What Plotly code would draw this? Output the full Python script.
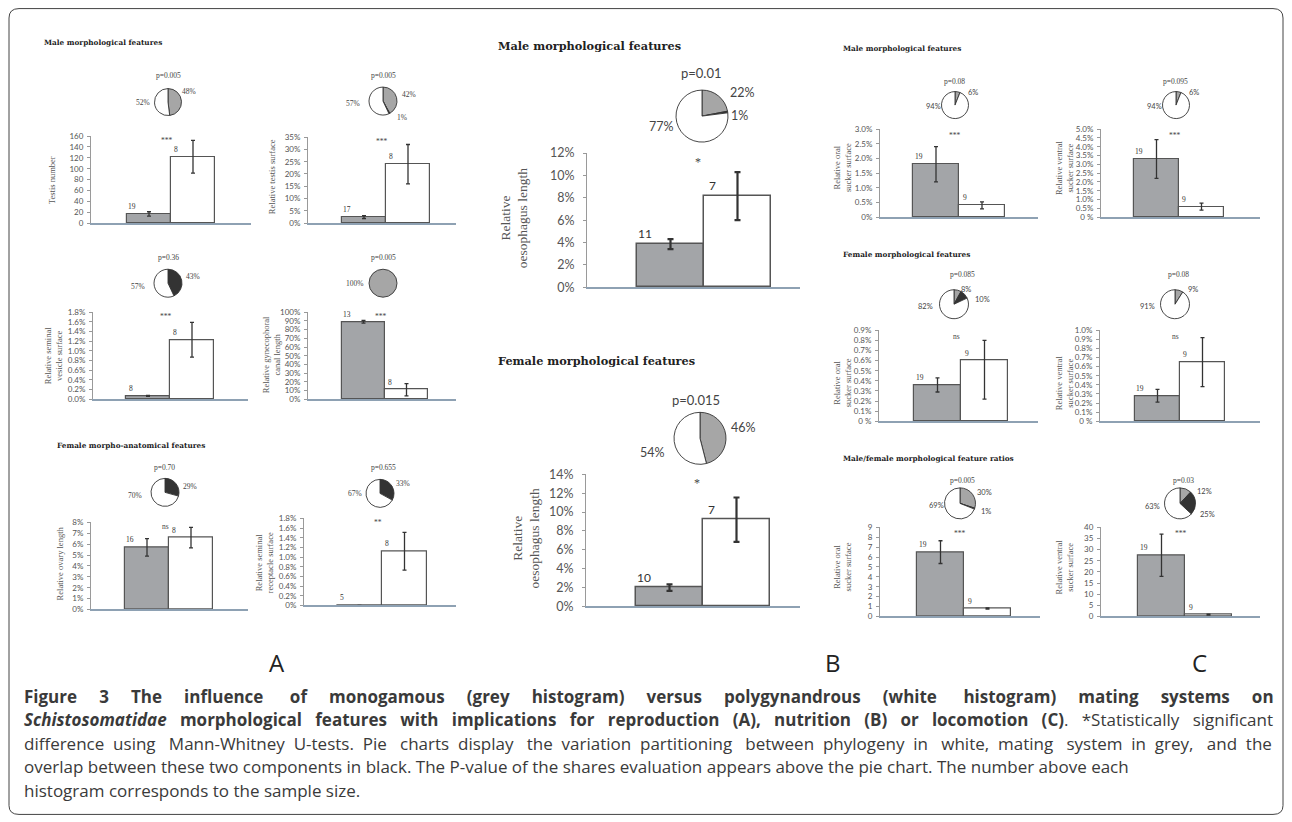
import plotly.graph_objects as go

W, H = 1292, 822

# ---------------- data ----------------
chart_ids = ["A1", "A2", "A3", "A4", "A5", "A6", "B1", "B2",
             "C1", "C2", "C3", "C4", "C5", "C6"]
grey_vals = [17, 2.5, 0.07, 89, 5.7, 0, 3.85, 2.0, 1.8, 3.3, 0.36, 0.28, 6.5, 27.5]
grey_err = [4, 0.6, 0.01, 1.5, 0.8, 0, 0.45, 0.35, 0.6, 1.1, 0.07, 0.07, 1.15, 9.5]
white_vals = [122, 24, 1.23, 11, 6.6, 1.12, 8.15, 9.2, 0.4, 0.6, 0.6, 0.65, 0.8, 0.8]
white_err_plus = [30, 8, 0.36, 7, 0.95, 0.39, 2.15, 2.35, 0.12, 0.2, 0.2, 0.27, 0.06, 0.2]
white_err_minus = [30, 8, 0.36, 7, 0.95, 0.39, 2.15, 2.35, 0.12, 0.2, 0.38, 0.27, 0.06, 0.2]
n_grey = [19, 17, 8, 13, 16, 5, 11, 10, 19, 19, 19, 19, 19, 19]
n_white = [8, 8, 8, 8, 8, 8, 7, 7, 9, 9, 9, 9, 9, 9]
signif = ["***", "***", "***", "***", "ns", "**", "*", "*",
          "***", "***", "ns", "ns", "***", "***"]
p_labels = ["p=0.005", "p=0.005", "p=0.36", "p=0.005", "p=0.70", "p=0.655",
            "p=0.01", "p=0.015", "p=0.08", "p=0.095", "p=0.085", "p=0.08",
            "p=0.005", "p=0.03"]
pie_grey = [48, 42, 0, 100, 0, 0, 22, 46, 6, 6, 8, 9, 30, 12]
pie_black = [0, 1, 43, 0, 29, 33, 1, 0, 0, 0, 10, 0, 1, 25]
pie_white = [52, 57, 57, 0, 70, 67, 77, 54, 94, 94, 82, 91, 69, 63]
y_titles = ["Testis number", "Relative testis surface",
            "Relative seminal<br>vesicle surface", "Relative gynecophoral<br>canal length",
            "Relative ovary length", "Relative seminal<br>receptacle surface",
            "Relative<br>oesophagus length", "Relative<br>oesophagus length",
            "Relative oral<br>sucker surface", "Relative ventral<br>sucker surface",
            "Relative oral<br>sucker surface", "Relative ventral<br>sucker surface",
            "Relative oral<br>sucker surface", "Relative ventral<br>sucker surface"]
y_max = [160, 35, 1.8, 100, 8, 1.8, 12, 14, 3.0, 5.0, 0.9, 1.0, 9, 40]
y_step = [20, 5, 0.2, 10, 1, 0.2, 2, 2, 0.5, 0.5, 0.1, 0.1, 1, 5]
tick_dec = [0, 0, 1, 0, 0, 1, 0, 0, 1, 1, 1, 1, 0, 0]
tick_suffix = ["", "%", "%", "%", "%", "%", "%", "%", "%", "%", "%", "%", "", ""]
zero_label = ["0", "0%", "0.0%", "0%", "0%", "0%", "0%", "0%", "0%", "0 %", "0 %", "0 %", "0", "0"]

section_titles = ["Male morphological features", "Female morpho-anatomical features",
                  "Male morphological features", "Female morphological features",
                  "Male morphological features", "Female morphological features",
                  "Male/female morphological feature ratios"]
panel_letters = ["A", "B", "C"]
caption_lines = [
    "<b>Figure 3 The influence of monogamous (grey histogram) versus polygynandrous (white histogram) mating systems on</b>",
    "<b><i>Schistosomatidae</i> morphological features with implications for reproduction (A), nutrition (B) or locomotion (C)</b>. *Statistically significant",
    "difference using Mann-Whitney U-tests. Pie charts display the variation partitioning between phylogeny in white, mating system in grey, and the",
    "overlap between these two components in black. The P-value of the shares evaluation appears above the pie chart. The number above each",
    "histogram corresponds to the sample size.",
]

# ---------------- layout (pixels) ----------------
# x0, x1, y_zero, y_top, bar_left, bar_w, pie_cx, pie_cy, pie_r, p_x, p_y, ytitle_x, ytitle_y, style
CFG = [
    (91, 251, 223, 136, 127, 44, 168, 102, 13.5, 168, 75, 52, 180, "A"),
    (308, 456, 223, 137, 342, 44, 383, 101, 14, 383, 75, 272, 177, "A"),
    (93, 248, 399, 312, 126, 44, 168, 283, 14, 168, 257, 53, 355, "A"),
    (308, 456, 399, 312, 342, 43, 383, 283, 14, 383, 257, 271, 355, "A"),
    (91, 248, 609, 522, 125, 44, 165, 492, 14, 164, 467, 60, 563, "A"),
    (304, 456, 605, 518, 337, 45, 380, 493, 14, 383, 467, 264, 563, "A"),
    (587, 800, 287, 153, 637, 67, 702, 116, 26, 701, 73, 514, 218, "B"),
    (586, 800, 606, 474, 636, 67, 700, 438, 26, 696, 400, 526, 538, "B"),
    (880, 1038, 217, 129, 913, 46, 955, 105, 13.5, 954, 81, 842, 168, "C"),
    (1101, 1260, 217, 129, 1134, 45, 1176, 105, 13.5, 1175, 81, 1064, 168, "C"),
    (879, 1038, 421, 330, 914, 47, 954, 304, 14.5, 963, 274, 842, 383, "C"),
    (1100, 1260, 421, 330, 1135, 45, 1175, 304, 14.5, 1178, 274, 1064, 383, "C"),
    (880, 1040, 616, 527, 917, 47, 960, 503, 15.5, 963, 480, 842, 567, "C"),
    (1101, 1260, 616, 527, 1138, 47, 1180, 503, 15.5, 1183, 480, 1064, 567, "C"),
]
# pie label offsets from centre: (slice, dx, dy); slice 0 grey, 1 black, 2 white
PIE_LAB = [
    [(2, -25, 0), (0, 21, -11)],
    [(2, -30, 2), (0, 26, -7), (1, 19, 16)],
    [(2, -30, 3), (1, 25, -7)],
    [(0, -28, 0)],
    [(2, -30, 3), (1, 25, -6)],
    [(2, -25, 0), (1, 23, -10)],
    [(2, -41, 10), (0, 40, -24), (1, 38, -1)],
    [(2, -47, 14), (0, 43, -11)],
    [(2, -22, 1), (0, 18, -13)],
    [(2, -22, 1), (0, 18, -13)],
    [(2, -28, 2), (0, 12, -15), (1, 28, -5)],
    [(2, -28, 2), (0, 18, -15)],
    [(2, -24, 2), (0, 24, -11), (1, 26, 8)],
    [(2, -28, 3), (0, 24, -12), (1, 27, 11)],
]
# section titles: (x, y, anchor, size)
TITLE_POS = [(42, 42, "left", 7.3), (55, 445, "left", 7.3),
             (589, 46, "center", 11.3), (596, 361, "center", 11.3),
             (841, 48, "left", 7.3), (841, 254, "left", 7.3), (841, 458, "left", 7.3)]
LETTER_POS = [(277, 662), (833, 662), (1199, 662)]
CAPTION_Y = [696, 719, 743, 766, 790]
CAPTION_PAD = [4.13, 2, 1.35, 0, 0]   # extra no-break spaces per word gap (justification)

SERIF = "Liberation Serif"
TSERIF = "DejaVu Serif"
SANS = "Lato"
CAP = "Open Sans"
GREY_FILL = "#a3a5a8"
PIE_COLORS = ["#a6a6a6", "#333333", "#ffffff"]

STYLE = {
    "A": dict(tick=8, tickfam=SANS, n=7.5, nfam=SERIF, star=7.5, yt=8.5, pie=7.5, piefam=SERIF,
              p=7.5, pfam=SERIF, lw=1.2, eth=1.3, ew=2, stoff=4, standoff=5),
    "B": dict(tick=12.5, tickfam=SANS, n=12, nfam=SANS, star=12, yt=13.5, pie=12.5, piefam=SANS,
              p=13, pfam=SANS, lw=1.5, eth=2.2, ew=3, stoff=9, standoff=9),
    "C": dict(tick=8, tickfam=SANS, n=7.5, nfam=SERIF, star=7.5, yt=8.5, pie=7.5, piefam=SANS,
              p=7.5, pfam=SERIF, lw=1.2, eth=1.3, ew=2, stoff=6, standoff=5),
}

# vertical placement correction (the captured page shows an ~8 px top offset and slight squeeze)
Y_OFF, Y_SCALE = 8.0, 0.981


def px(x):
    return x / W


def py(y):
    yl = (y - Y_OFF) / Y_SCALE
    yl = min(max(yl, 0.6), H - 0.6)
    return 1 - yl / H


annotations = []


def ann(text, x, y, size, family, color="#333", xanchor="center", yanchor="middle", **kw):
    annotations.append(dict(text=text, x=px(x), y=py(y), xref="paper", yref="paper",
                            showarrow=False, xanchor=xanchor, yanchor=yanchor,
                            font=dict(size=size, family=family, color=color), **kw))


def justify(line, pad):
    """Spread extra no-break spaces evenly over the word gaps of a caption line."""
    parts = line.split(" ")
    gaps = len(parts) - 1
    total = int(round(pad * gaps))
    out = parts[0]
    given = 0
    for g in range(gaps):
        want = int(round(total * (g + 1) / gaps)) - given
        given += want
        out += " " + "\u00a0" * want + parts[g + 1]
    return out


fig = go.Figure()
axes = {}
for k in range(len(chart_ids)):
    x0, x1, y0, yt, xb, bw, cx, cy, r, pxl, pyl, ytx, yty, st = CFG[k]
    S = STYLE[st]
    i = k + 1
    xa, ya = ("xaxis", "yaxis") if i == 1 else (f"xaxis{i}", f"yaxis{i}")
    xr, yr = ("x", "y") if i == 1 else (f"x{i}", f"y{i}")
    rng = [-0.5 + (x0 - xb) / bw, -0.5 + (x1 - xb) / bw]
    nt = int(round(y_max[k] / y_step[k]))
    tv = [y_step[k] * j for j in range(nt + 1)]
    tt = [f"{v:.{tick_dec[k]}f}{tick_suffix[k]}" for v in tv]
    tt[0] = zero_label[k]
    axes[xa] = dict(domain=[px(x0), px(x1)], range=rng, anchor=yr, showticklabels=False,
                    ticks="", showgrid=False, zeroline=False, showline=True,
                    linecolor="#8ea1b3", linewidth=1.6, fixedrange=True)
    axes[ya] = dict(domain=[py(y0), py(yt)], range=[0, y_max[k]], anchor=xr,
                    tickvals=tv, ticktext=tt, ticks="outside", ticklen=3, tickcolor="#999",
                    ticklabelstandoff=S["standoff"] - 3,
                    showline=True, linecolor="#9a9a9a", linewidth=1, showgrid=False,
                    zeroline=False, fixedrange=True,
                    tickfont=dict(size=S["tick"], family=S["tickfam"], color="#555"))
    fig.add_trace(go.Bar(
        x=[0, 1], y=[grey_vals[k], white_vals[k]], width=1, xaxis=xr, yaxis=yr,
        marker=dict(color=[GREY_FILL, "#ffffff"], line=dict(color="#555555", width=S["lw"])),
        error_y=dict(type="data", symmetric=False,
                     array=[grey_err[k], white_err_plus[k]],
                     arrayminus=[grey_err[k], white_err_minus[k]],
                     color="#333333", thickness=S["eth"], width=S["ew"]),
        showlegend=False, hoverinfo="skip"))
    # pie (zero shares omitted so no stray radius lines appear)
    pv = [pie_grey[k], pie_black[k], pie_white[k]]
    keep = [j for j in range(3) if pv[j] > 0]
    fig.add_trace(go.Pie(
        values=[pv[j] for j in keep], sort=False, direction="clockwise",
        rotation=0, textinfo="none", hoverinfo="skip", showlegend=False,
        marker=dict(colors=[PIE_COLORS[j] for j in keep],
                    line=dict(color="#333333", width=0.9)),
        domain=dict(x=[px(cx - r), px(cx + r)], y=[py(cy + r), py(cy - r)])))
    for sl, dx, dy in PIE_LAB[k]:
        ann(f"{pv[sl]}%", cx + dx, cy + dy, S["pie"], S["piefam"], "#444")
    ann(p_labels[k], pxl, pyl, S["p"], S["pfam"], "#444")
    # n labels and significance
    for j, nv, val in ((0, n_grey[k], grey_vals[k]), (1, n_white[k], white_vals[k])):
        annotations.append(dict(text=str(nv), x=j - 0.38, y=val, xref=xr, yref=yr,
                                showarrow=False, xanchor="center", yanchor="bottom", yshift=1,
                                font=dict(size=S["n"], family=S["nfam"], color="#333")))
    ann(signif[k], (xb + bw * 0.91), yt + S["stoff"], S["star"], SERIF, "#444")
    ann(y_titles[k], ytx, yty, S["yt"], SERIF, "#555", textangle=-90)

for t, (tx, ty, anc, sz) in zip(section_titles, TITLE_POS):
    ann(f"<b>{t}</b>", tx, ty, sz, TSERIF, "#222", xanchor=anc)

for L, (lx, ly) in zip(panel_letters, LETTER_POS):
    ann(L, lx, ly, 24, CAP, "#222")

for line, cyy, pad in zip(caption_lines, CAPTION_Y, CAPTION_PAD):
    txt = justify(line, pad) if pad else line
    ann(txt, 22, cyy, 17, CAP, "#3a3a3a", xanchor="left")

# rounded frame
x_l, x_r, y_t, y_b, rad = 9, 1283, 8, 815, 10
path = (f"M {px(x_l + rad)} {py(y_t)} L {px(x_r - rad)} {py(y_t)} "
        f"Q {px(x_r)} {py(y_t)} {px(x_r)} {py(y_t + rad)} "
        f"L {px(x_r)} {py(y_b - rad)} Q {px(x_r)} {py(y_b)} {px(x_r - rad)} {py(y_b)} "
        f"L {px(x_l + rad)} {py(y_b)} Q {px(x_l)} {py(y_b)} {px(x_l)} {py(y_b - rad)} "
        f"L {px(x_l)} {py(y_t + rad)} Q {px(x_l)} {py(y_t)} {px(x_l + rad)} {py(y_t)} Z")

fig.update_layout(
    width=W, height=H, autosize=False, margin=dict(l=0, r=0, t=0, b=0),
    paper_bgcolor="white", plot_bgcolor="rgba(0,0,0,0)",
    annotations=annotations, bargap=0,
    shapes=[dict(type="path", path=path, xref="paper", yref="paper",
                 line=dict(color="#444", width=1), fillcolor="rgba(0,0,0,0)")],
    **axes)

PIN_PAGE = (
    "document.documentElement.style.margin='0';document.documentElement.style.padding='0';"
    "document.documentElement.style.overflow='hidden';"
    "document.body.style.margin='0';document.body.style.padding='0';"
    "document.body.style.overflow='hidden';"
    "var gd=document.getElementById('{plot_id}');"
    "gd.style.position='absolute';gd.style.left='0px';gd.style.top='0px';"
)
fig.write_html("out.html", config={"displayModeBar": False}, post_script=PIN_PAGE)
